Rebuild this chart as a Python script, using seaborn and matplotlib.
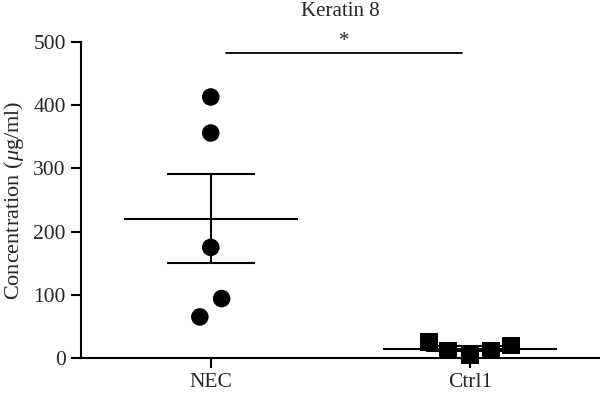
import numpy as np
import pandas as pd
import matplotlib
matplotlib.use("Agg")
import matplotlib.pyplot as plt
import seaborn as sns

groups = ["NEC", "Ctrl1"]
nec_values = [413, 356, 175, 94, 65]
ctrl_values = [25, 12, 5, 12, 20]
nec_offsets = [0.0, 0.0, 0.0, 0.042, -0.042]
ctrl_offsets = [-0.158, -0.085, 0.0, 0.081, 0.158]
y_ticks = [0, 100, 200, 300, 400, 500]
title = "Keratin 8"
ylabel = "Concentration ($\\mu$g/ml)"
sig_label = "*"

sns.set_style("ticks")
plt.rcParams['font.family'] = ['Liberation Serif', 'DejaVu Serif']
plt.rcParams['mathtext.fontset'] = 'custom'
plt.rcParams['mathtext.it'] = 'Liberation Serif:italic'
plt.rcParams['mathtext.rm'] = 'Liberation Serif'

df = pd.DataFrame({
    "group": ["NEC"] * len(nec_values) + ["Ctrl1"] * len(ctrl_values),
    "value": nec_values + ctrl_values,
    "offset": nec_offsets + ctrl_offsets,
})
df["x"] = df["group"].map({g: i for i, g in enumerate(groups)}) + df["offset"]

fig = plt.figure(figsize=(6, 3.95), dpi=100)
ax = fig.add_axes([0.135, 0.0937, 0.865, 0.80])

sns.scatterplot(data=df, x="x", y="value", style="group", markers={"NEC": "o", "Ctrl1": "s"},
                color="black", s=160, edgecolor="black", linewidth=0,
                legend=False, ax=ax, zorder=3, clip_on=False)

for i, g in enumerate(groups):
    vals = np.array(df.loc[df["group"] == g, "value"], dtype=float)
    m = vals.mean()
    se = vals.std(ddof=1) / np.sqrt(len(vals))
    ax.hlines(m, i - 0.335, i + 0.335, color="black", lw=1.5, zorder=2)
    ax.hlines([m - se, m + se], i - 0.17, i + 0.17, color="black", lw=1.5, zorder=2)
    ax.vlines(i, m - se, m + se, color="black", lw=1.5, zorder=2)

ax.plot([0.06, 0.97], [482, 482], color="black", lw=1.3)
ax.text(0.515, 485, sig_label, ha="center", va="bottom", fontsize=15)

ax.set_xlim(-0.5, 1.5)
ax.set_ylim(0, 500)
ax.set_xticks(range(len(groups)))
ax.set_xticklabels(groups, fontsize=15.5)
ax.set_yticks(y_ticks)
ax.set_yticklabels([str(t) for t in y_ticks], fontsize=15.5)
ax.set_xlabel("")
ax.set_ylabel(ylabel, fontsize=16, labelpad=5)
ax.set_title(title, fontsize=15, pad=19)
ax.tick_params(axis="both", length=7, width=1.5, color="black", pad=4)
for s in ["left", "bottom"]:
    ax.spines[s].set_linewidth(1.5)
    ax.spines[s].set_color("black")
sns.despine(ax=ax)

fig.savefig("out.png", dpi=100)
